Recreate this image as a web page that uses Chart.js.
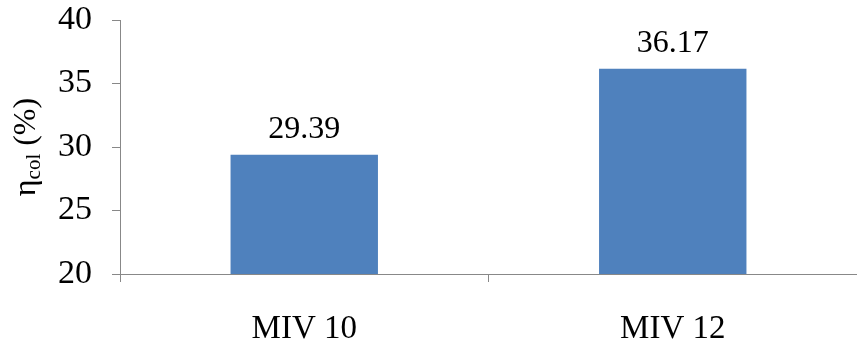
<!DOCTYPE html>
<html>
<head>
<meta charset="utf-8">
<script src="https://cdn.jsdelivr.net/npm/chart.js@4"></script>
<style>
  html, body { margin: 0; padding: 0; background: #fff; }
  #grafico { display: block; }
</style>
</head>
<body>
<canvas id="grafico" width="857" height="343"></canvas>
<script>
const categorias = ["MIV 10", "MIV 12"];
const valores = [29.39, 36.17];
const rotulosValores = ["29.39", "36.17"];
const ticksY = [20, 25, 30, 35, 40];

const corBarra = "#4F81BD";
const corEixo = "#888888";
const fonte = "'Liberation Serif', 'Times New Roman', serif";

// rotulos em cima das barras
const rotulosBarras = {
    id: "rotulosBarras",
    afterDatasetsDraw(chart) {
        const ctx = chart.ctx;
        const meta = chart.getDatasetMeta(0);
        ctx.save();
        ctx.fillStyle = "#000";
        ctx.font = "32px " + fonte;
        ctx.textAlign = "center";
        ctx.textBaseline = "alphabetic";
        meta.data.forEach((barra, i) => {
            ctx.fillText(rotulosValores[i], barra.x, barra.y - 17);
        });
        ctx.restore();
    }
};

// titulo do eixo y com subscrito
const tituloEixoY = {
    id: "tituloEixoY",
    afterDraw(chart) {
        const ctx = chart.ctx;
        const area = chart.chartArea;
        const meio = (area.top + area.bottom) / 2;
        ctx.save();
        ctx.translate(35, meio);
        ctx.rotate(-Math.PI / 2);
        ctx.fillStyle = "#000";
        ctx.textBaseline = "alphabetic";
        const fGrande = "32px " + fonte;
        const fPequena = "21px " + fonte;
        ctx.font = fGrande;
        const w1 = ctx.measureText("η").width;
        const w3 = ctx.measureText(" (%)").width;
        ctx.font = fPequena;
        const w2 = ctx.measureText("col").width;
        let x = -(w1 + w2 + w3) / 2;
        ctx.font = fGrande;
        ctx.fillText("η", x, 0);
        x += w1;
        ctx.font = fPequena;
        ctx.fillText("col", x, 5);
        x += w2;
        ctx.font = fGrande;
        ctx.fillText(" (%)", x, 0);
        ctx.restore();
    }
};

new Chart(document.querySelector("#grafico"), {
    type: "bar",
    data: {
        labels: categorias,
        datasets: [{
            data: valores,
            backgroundColor: corBarra,
            borderWidth: 0,
            categoryPercentage: 0.8,
            barPercentage: 0.5
        }]
    },
    options: {
        responsive: false,
        animation: false,
        layout: { padding: { left: 0, top: 20, right: 0, bottom: 0 } },
        plugins: {
            legend: { display: false },
            tooltip: { enabled: false }
        },
        scales: {
            x: {
                afterFit(scale) {
                    scale.height = 69;
                    scale.paddingLeft = 0;
                    scale.paddingRight = 0;
                },
                grid: {
                    offset: true,
                    drawOnChartArea: false,
                    color: corEixo,
                    tickLength: 8
                },
                border: { color: corEixo, width: 1 },
                ticks: {
                    color: "#000",
                    padding: 31,
                    font: { family: fonte, size: 33, lineHeight: 1.0 }
                }
            },
            y: {
                min: 20,
                max: 40,
                afterBuildTicks(scale) {
                    scale.ticks = ticksY.map(v => ({ value: v }));
                },
                afterFit(scale) {
                    scale.width = 120;
                    scale.paddingTop = 0;
                    scale.paddingBottom = 0;
                },
                grid: {
                    drawOnChartArea: false,
                    color: corEixo,
                    tickLength: 8
                },
                border: { color: corEixo, width: 1 },
                ticks: {
                    color: "#000",
                    padding: 20,
                    font: { family: fonte, size: 34 }
                }
            }
        }
    },
    plugins: [rotulosBarras, tituloEixoY]
});
</script>
</body>
</html>
